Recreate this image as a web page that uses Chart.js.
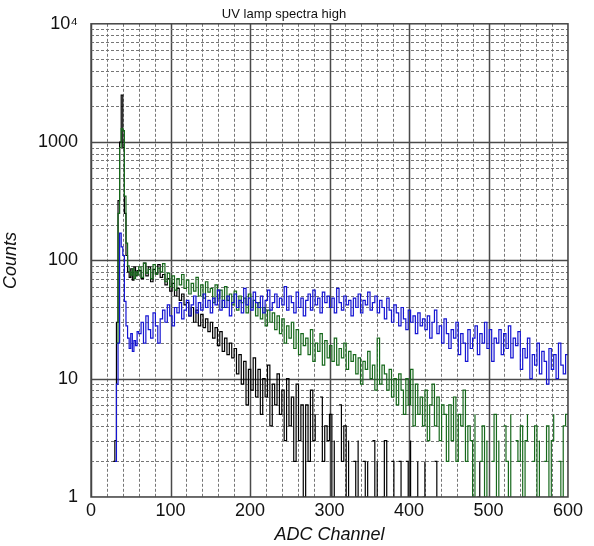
<!DOCTYPE html>
<html>
<head>
<meta charset="utf-8">
<script src="https://cdn.jsdelivr.net/npm/chart.js@4/dist/chart.umd.min.js"></script>
<style>
  html, body { margin: 0; padding: 0; background: #fff; }
  #uvChart { display: block; }
</style>
</head>
<body>
<canvas id="uvChart" width="594" height="546"></canvas>
<script>
// bin edges: 2-channel bins up to 60, 3-channel bins after that, last edge 600
const fineChannels = [0, 2, 4, 6, 8, 10, 12, 14, 16, 18, 20, 22, 24, 26, 28,
  30, 32, 34, 36, 38, 40, 42, 44, 46, 48, 50, 52, 54, 56, 58];
const coarseChannels = [];
for (let c = 60; c < 600; c += 3) coarseChannels.push(c);
const channels = fineChannels.concat(coarseChannels, [600]);

// counts (0 = empty bin, drawn on the bottom axis)
const blackCounts = [
  2, 0, 0, 0, 0, 0, 0, 2, 0, 0, 0, 0, 0, 0, 2, 3, 30, 320, 1000, 2500, 900, 250, 110, 80, 72, 85, 68, 88, 74, 82,
  82, 70, 95, 74, 88, 66, 84, 78, 92, 72,
  76, 62, 70, 55, 64, 50, 58, 46, 52, 42,
  44, 34, 40, 30, 38, 28, 35, 27, 32, 25,
  30, 22, 27, 19, 25, 17, 22, 16, 20, 15,
  18, 11, 16, 9, 14, 6, 12, 8, 15, 7,
  12, 5, 10, 7, 13, 4, 9, 6, 11, 5,
  8, 3, 10, 4, 7, 2, 9, 3, 6, 1,
  6, 2, 8, 3, 5, 0, 7, 2, 4, 3,
  5, 1, 3, 0, 6, 2, 4, 1, 3, 0,
  2, 1, 3, 0, 2, 1, 2, 0, 3, 1,
  2, 0, 1, 3, 1, 0, 2, 1, 0, 2,
  1, 0, 2, 1, 3, 0, 1, 2, 0, 1,
  2, 0, 1, 0, 2, 1, 0, 0, 1, 0,
  0, 2, 0, 0, 1, 0, 0, 1, 0, 0,
  2, 0, 1, 2, 0, 1, 0, 0, 1, 0,
  0, 0, 0, 1, 0, 0, 0, 0, 0, 0,
  0, 0, 0, 0, 0, 1, 0, 0, 0, 0,
  0, 0, 0, 0, 0, 0, 0, 0, 0, 0,
  0
];
const greenCounts = [
  0, 0, 0, 0, 0, 0, 0, 0, 0, 0, 0, 0, 0, 0, 0, 0, 20, 250, 900, 1300, 1250, 350, 140, 90, 80, 75, 85, 70, 80, 75,
  88, 72, 95, 78, 84, 70, 92, 76, 86, 80,
  94, 66, 78, 60, 74, 56, 70, 62, 76, 58,
  68, 52, 64, 55, 72, 50, 62, 48, 66, 54,
  58, 44, 62, 48, 56, 40, 60, 46, 52, 42,
  55, 38, 50, 44, 48, 36, 52, 40, 46, 34,
  44, 32, 40, 28, 38, 30, 36, 26, 34, 24,
  32, 20, 28, 22, 30, 18, 26, 16, 24, 19,
  22, 16, 26, 14, 20, 17, 24, 13, 21, 15,
  19, 14, 22, 13, 18, 15, 20, 12, 17, 14,
  16, 11, 15, 9, 14, 12, 17, 10, 13, 8,
  22, 9, 13, 11, 8, 12, 7, 10, 6, 11,
  8, 5, 10, 6, 12, 4, 9, 5, 7, 4,
  8, 3, 6, 9, 4, 7, 3, 6, 5, 2,
  6, 3, 7, 2, 5, 4, 8, 2, 4, 3,
  1, 5, 0, 2, 4, 1, 3, 0, 2, 5,
  1, 3, 0, 4, 2, 1, 5, 0, 3, 2,
  4, 1, 3, 5, 0, 2, 4, 1, 3, 0,
  2, 4, 1, 3, 5, 0, 2, 1, 4, 5,
  5
];
const blueCounts = [
  0, 0, 0, 0, 0, 0, 0, 0, 0, 0, 0, 0, 0, 0, 0, 2, 9, 20, 170, 130, 110, 45, 28, 22, 18, 24, 17, 21, 19, 25,
  24, 30, 20, 34, 26, 22, 36, 28, 20, 32,
  38, 30, 42, 34, 28, 40, 36, 44, 32, 38,
  46, 34, 42, 50, 36, 44, 38, 52, 40, 46,
  36, 48, 42, 56, 38, 46, 40, 50, 34, 44,
  52, 40, 46, 36, 58, 42, 48, 38, 54, 44,
  40, 50, 36, 46, 56, 38, 44, 52, 40, 48,
  42, 60, 38, 50, 44, 36, 54, 40, 48, 34,
  46, 52, 38, 56, 42, 48, 36, 54, 44, 50,
  40, 48, 36, 58, 44, 38, 50, 42, 46, 34,
  48, 40, 52, 36, 46, 42, 54, 38, 44, 50,
  36, 46, 40, 32, 48, 38, 30, 42, 36, 28,
  40, 32, 26, 38, 30, 34, 24, 36, 28, 32,
  26, 34, 22, 30, 38, 24, 28, 20, 32, 24,
  18, 26, 22, 30, 16, 24, 20, 14, 26, 18,
  22, 28, 16, 24, 20, 30, 18, 26, 14, 22,
  20, 26, 16, 24, 18, 28, 15, 22, 19, 25,
  12, 18, 15, 22, 10, 16, 13, 20, 11, 17,
  14, 9, 18, 12, 16, 10, 20, 13, 11, 16,
  16
];

const xTicks = [0, 100, 200, 300, 400, 500, 600];
const yTicks = [1, 10, 100, 1000, 10000];
const yTickLabels = ["1", "10", "100", "1000", "10\u2074"];

const toPoints = (counts) => channels.map((c, i) => ({ x: c, y: counts[i] }));

// grid drawn behind the data: solid lines on majors, dashed on minors
const gridPlugin = {
  id: "paperGrid",
  beforeDatasetsDraw(chart) {
    const { ctx, chartArea: a, scales } = chart;
    const xs = scales.x, ys = scales.y;
    ctx.save();
    ctx.beginPath();
    ctx.rect(a.left, a.top, a.right - a.left, a.bottom - a.top);
    ctx.clip();
    for (let v = 0; v <= 600; v += 20) {
      const px = Math.round(xs.getPixelForValue(v)) + 0.5;
      const major = v % 100 === 0;
      ctx.setLineDash(major ? [] : [3, 2]);
      ctx.strokeStyle = major ? "#4a4a4a" : "#767676";
      ctx.lineWidth = major ? 1.5 : 1;
      ctx.beginPath();
      ctx.moveTo(px, a.top);
      ctx.lineTo(px, a.bottom);
      ctx.stroke();
    }
    for (let d = 1; d < 10000; d *= 10) {
      for (let m = 1; m <= 9; m++) {
        const py = Math.round(ys.getPixelForValue(m * d)) + 0.5;
        const major = m === 1;
        ctx.setLineDash(major ? [] : [3, 2]);
        ctx.strokeStyle = major ? "#4a4a4a" : "#767676";
        ctx.lineWidth = major ? 1.5 : 1;
        ctx.beginPath();
        ctx.moveTo(a.left, py);
        ctx.lineTo(a.right, py);
        ctx.stroke();
      }
    }
    ctx.restore();
  },
  afterDatasetsDraw(chart) {
    const { ctx, chartArea: a } = chart;
    ctx.save();
    ctx.strokeStyle = "#444";
    ctx.lineWidth = 1.5;
    ctx.strokeRect(a.left, a.top, a.right - a.left, a.bottom - a.top);
    ctx.restore();
  }
};

const lineSet = (label, counts, color) => ({
  label: label,
  data: toPoints(counts),
  borderColor: color,
  borderWidth: 1.2,
  pointRadius: 0,
  stepped: "before",
  fill: false,
  clip: 0
});

const font = "'Liberation Sans', Arial, sans-serif";

new Chart(document.getElementById("uvChart").getContext("2d"), {
  type: "line",
  data: {
    datasets: [
      lineSet("blue", blueCounts, "#1414d2"),
      lineSet("green", greenCounts, "#17691c"),
      lineSet("black", blackCounts, "#000000")
    ]
  },
  plugins: [gridPlugin],
  options: {
    responsive: false,
    animation: false,
    layout: { padding: { left: 0, right: 26, top: 0, bottom: 0 } },
    plugins: {
      legend: { display: false },
      tooltip: { enabled: false },
      title: {
        display: true,
        text: "UV lamp spectra high",
        color: "#111",
        font: { family: font, size: 13, weight: "normal" },
        padding: { top: 5, bottom: 2 }
      }
    },
    scales: {
      x: {
        type: "linear",
        min: 0,
        max: 600,
        afterBuildTicks: (s) => { s.ticks = xTicks.map((v) => ({ value: v })); },
        afterFit: (s) => { s.height = 49; },
        grid: { display: false, drawTicks: false },
        border: { display: false },
        ticks: { color: "#111", font: { family: font, size: 18 }, padding: 3, maxRotation: 0 },
        title: {
          display: true,
          text: "ADC Channel",
          color: "#111",
          font: { family: font, size: 18, style: "italic" },
          padding: { top: 2, bottom: 0 }
        }
      },
      y: {
        type: "logarithmic",
        min: 1,
        max: 10000,
        afterBuildTicks: (s) => { s.ticks = yTicks.map((v) => ({ value: v })); },
        afterFit: (s) => { s.width = 91; },
        grid: { display: false, drawTicks: false },
        border: { display: false },
        ticks: {
          color: "#111",
          font: { family: font, size: 18 },
          padding: 13,
          callback: (v) => yTickLabels[yTicks.indexOf(v)]
        },
        title: {
          display: true,
          text: "Counts",
          color: "#111",
          font: { family: font, size: 18, style: "italic" },
          padding: { top: 0, bottom: 0 }
        }
      }
    }
  }
});
</script>
</body>
</html>
